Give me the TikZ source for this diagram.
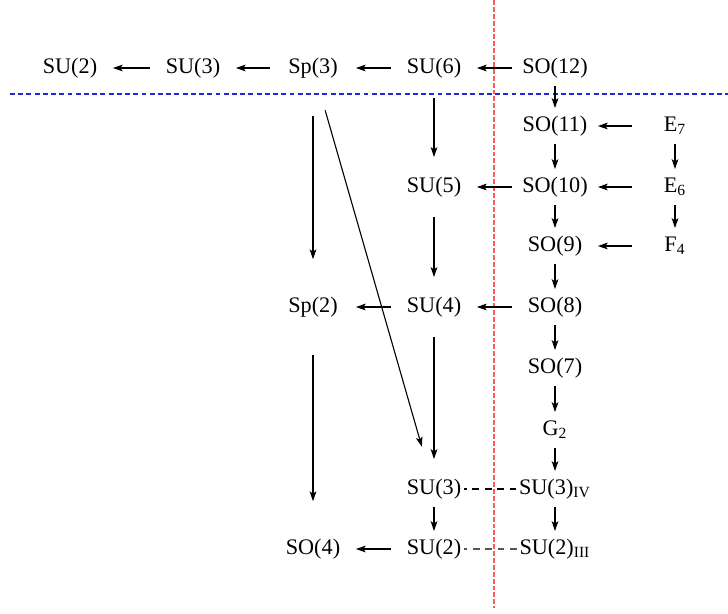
\documentclass[tikz,border=0pt]{standalone}
\usepackage{fontspec}
\setmainfont{Liberation Serif}
\usetikzlibrary{arrows.meta}
\definecolor{cutline}{HTML}{FF5A5A}
\definecolor{horizon}{HTML}{2424DC}
\definecolor{ink2}{HTML}{555555}
\begin{document}
\begin{tikzpicture}[x=0.45pt, y=-0.45pt,
  grp/.style={inner sep=1pt, text height=7pt, text depth=2.2pt},
  arr/.style={-{Stealth[length=4.4pt, width=3pt, inset=1pt]}, line width=0.5pt},
  hop/.style={arr, shorten <=19.3pt, shorten >=19.3pt},
  dn/.style={arr, shorten <=8.1pt, shorten >=8.1pt},
  dnlong/.style={arr, shorten <=13.5pt, shorten >=13.5pt},
  dnfar/.style={arr, shorten <=21.5pt, shorten >=21.5pt},
  link/.style={dash pattern=on 3pt off 2.6pt, line width=0.5pt},
]
\useasboundingbox (0,0) rectangle (728,613);
% cut lines
\coordinate (hl) at (10,94);
\coordinate (hr) at (728,94);
\coordinate (vt) at (494,0);
\coordinate (vb) at (494,608);
\draw[horizon, dash pattern=on 2.2pt off 1.5pt, line width=0.5pt] (hl) -- (hr);
\draw[cutline, dash pattern=on 2.2pt off 0.9pt, line width=0.6pt] (vt) -- (vb);
% groups
\node[grp] (su2a) at (70,68) {SU(2)};
\node[grp] (su3a) at (193,68) {SU(3)};
\node[grp] (sp3) at (313,68) {Sp(3)};
\node[grp] (su6) at (434,68) {SU(6)};
\node[grp] (so12) at (555,68) {SO(12)};
\node[grp] (so11) at (555,126) {SO(11)};
\node[grp] (e7) at (675,126) {E\textsubscript{7}};
\node[grp] (su5) at (434,187) {SU(5)};
\node[grp] (so10) at (555,187) {SO(10)};
\node[grp] (e6) at (675,187) {E\textsubscript{6}};
\node[grp] (so9) at (555,246) {SO(9)};
\node[grp] (f4) at (675,246) {F\textsubscript{4}};
\node[grp] (sp2) at (313,307) {Sp(2)};
\node[grp] (su4) at (434,307) {SU(4)};
\node[grp] (so8) at (555,307) {SO(8)};
\node[grp] (so7) at (555,368) {SO(7)};
\node[grp] (g2) at (555,430) {G\textsubscript{2}};
\node[grp] (su3b) at (434,489) {SU(3)};
\node[grp] (su3iv) at (555,489) {SU(3)\textsubscript{IV}};
\node[grp] (so4) at (313,549) {SO(4)};
\node[grp] (su2b) at (434,549) {SU(2)};
\node[grp] (su2iii) at (555,549) {SU(2)\textsubscript{III}};
% horizontal breakings
\draw[hop] (su3a.center) -- (su2a.center);
\draw[hop] (sp3.center) -- (su3a.center);
\draw[hop] (su6.center) -- (sp3.center);
\draw[hop] (so12.center) -- (su6.center);
\draw[hop] (e7.center) -- (so11.center);
\draw[hop] (so10.center) -- (su5.center);
\draw[hop] (e6.center) -- (so10.center);
\draw[hop] (f4.center) -- (so9.center);
\draw[hop] (su4.center) -- (sp2.center);
\draw[hop] (so8.center) -- (su4.center);
\draw[hop] (su2b.center) -- (so4.center);
% vertical chains
\draw[dn] (so12.center) -- (so11.center);
\draw[dn] (so11.center) -- (so10.center);
\draw[dn] (so10.center) -- (so9.center);
\draw[dn] (so9.center) -- (so8.center);
\draw[dn] (so8.center) -- (so7.center);
\draw[dn] (so7.center) -- (g2.center);
\draw[dn] (g2.center) -- (su3iv.center);
\draw[dn] (su3iv.center) -- (su2iii.center);
\draw[dn] (e7.center) -- (e6.center);
\draw[dn] (e6.center) -- (f4.center);
\draw[dn] (su3b.center) -- (su2b.center);
\draw[dnlong] (su6.center) -- (su5.center);
\draw[dnlong] (su5.center) -- (su4.center);
\draw[dnlong] (su4.center) -- (su3b.center);
\draw[dnfar] (sp3.center) -- (sp2.center);
\draw[dnfar] (sp2.center) -- (so4.center);
\draw[arr, shorten <=19.8pt, shorten >=19.8pt] (sp3.center) -- (su3b.center);
% identifications
\draw[link] (su3iv.west) -- (su3b.east);
\draw[link, ink2] (su2iii.west) -- (su2b.east);
\end{tikzpicture}
\end{document}
